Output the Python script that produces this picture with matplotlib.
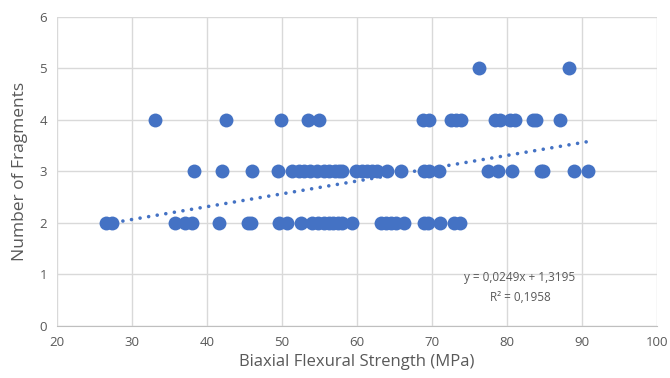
import matplotlib.pyplot as plt
import numpy as np

plt.rcParams['font.family'] = ['Open Sans', 'DejaVu Sans']

# Biaxial flexural strength (MPa) grouped by number of fragments
strength_2 = [26.5, 27.3, 35.7, 37.0, 38.0, 41.6, 45.5, 45.8, 49.6, 50.7, 52.5, 54.0,
              54.8, 55.6, 56.2, 56.8, 57.4, 58.0, 59.3, 63.2, 63.8, 64.5, 65.2, 66.2,
              68.9, 69.5, 71.0, 72.9, 73.7]
strength_3 = [38.3, 42.0, 46.0, 49.5, 51.3, 52.2, 52.9, 53.7, 54.6, 55.6, 56.2, 57.0,
              57.6, 58.0, 59.8, 60.6, 61.3, 62.0, 62.7, 64.0, 65.8, 68.9, 69.6, 70.9,
              77.4, 78.8, 80.6, 84.5, 84.8, 88.9, 90.8]
strength_4 = [33.0, 42.5, 49.8, 53.4, 54.9, 68.8, 69.6, 72.5, 73.2, 73.8, 78.4, 79.1,
              80.4, 81.0, 83.4, 83.8, 87.0]
strength_5 = [76.2, 88.2]

# linear trend as reported in the chart
slope = 0.0249
intercept = 1.3195
r_squared = 0.1958

x = np.array(strength_2 + strength_3 + strength_4 + strength_5)
y = np.array([2] * len(strength_2) + [3] * len(strength_3)
             + [4] * len(strength_4) + [5] * len(strength_5))

blue = '#4472C4'
grey = '#595959'

fig = plt.figure(figsize=(6.7, 3.78), dpi=100)
ax = fig.add_axes([0.085, 0.138, 0.896, 0.817])

ax.scatter(x, y, s=100, color=blue, zorder=3, linewidths=0)

# trendline over the data range, round dots
xt = np.array([x.min(), x.max()])
ax.plot(xt, slope * xt + intercept, color=blue, linestyle=(0, (0.01, 2.4)),
        linewidth=2.6, dash_capstyle='round', zorder=2)

ax.text(81.7, 0.93, f"y = {slope:.4f}x + {intercept:.4f}".replace('.', ','),
        ha='center', va='center', fontsize=8.5, color=grey)
ax.text(81.7, 0.55, f"R² = {r_squared:.4f}".replace('.', ','),
        ha='center', va='center', fontsize=8.5, color=grey)

ax.set_xlim(20, 100)
ax.set_ylim(0, 6)
ax.set_xticks(range(20, 101, 10))
ax.set_yticks(range(0, 7))
ax.grid(True, color='#D9D9D9', linewidth=1)
ax.set_axisbelow(True)
for side in ['top', 'right', 'left']:
    ax.spines[side].set_visible(False)
ax.spines['bottom'].set_color('#BFBFBF')
ax.tick_params(length=0, labelsize=9.5, colors=grey, pad=7)

ax.set_xlabel('Biaxial Flexural Strength (MPa)', fontsize=12, color=grey, labelpad=4)
ax.set_ylabel('Number of Fragments', fontsize=12.5, color=grey, labelpad=8)

plt.savefig('out.png')
